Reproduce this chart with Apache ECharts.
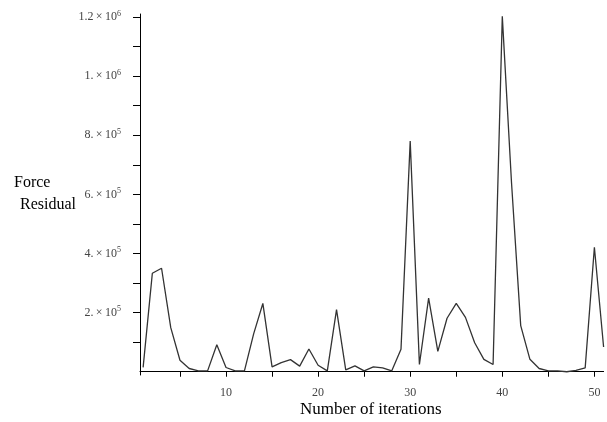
<!DOCTYPE html>
<html>
<head>
<meta charset="utf-8">
<script src="https://cdn.jsdelivr.net/npm/echarts@6/dist/echarts.min.js"></script>
<style>
  html, body { margin: 0; padding: 0; background: #fff; }
  #main { width: 607px; height: 422px; }
</style>
</head>
<body>
<div id="main"></div>
<script>
var iterations = [];
for (var i = 1; i <= 51; i++) iterations.push(i);

// force residual
var residual = [
  15000, 333000, 350000, 149000, 39000, 11000, 3000, 3000, 91600, 14400,
  3000, 3000, 128000, 231000, 16500, 31000, 41000, 19000, 77000, 22000,
  3000, 210000, 6500, 20000, 3000, 16500, 13000, 3000, 76000, 780000,
  24500, 249000, 69000, 181000, 231000, 184000, 98000, 42000, 24500, 1202000,
  640000, 156000, 42000, 11000, 3000, 3000, 0, 5000, 13000, 421000,
  83500
];

var xTicks = [5, 10, 15, 20, 25, 30, 35, 40, 45, 50];
var xLabels = [10, 20, 30, 40, 50];
var yTicks = [100000, 200000, 300000, 400000, 500000, 600000, 700000, 800000, 900000, 1000000, 1100000, 1200000];
var yLabels = [200000, 400000, 600000, 800000, 1000000, 1200000];

var chart = echarts.init(document.getElementById('main'));

function sciLabel(v) {
  var exp = v >= 1000000 ? 6 : 5;
  var m = v / Math.pow(10, exp);
  var ms = (Math.round(m * 10) / 10).toString();
  if (ms.indexOf('.') < 0) ms = ms + '.';
  return '{b|' + ms + '\u2009\u00d7\u200910}{s|' + exp + '}';
}

var option = {
  animation: false,
  grid: { left: 140, right: 3.4, top: 14, bottom: 47 },
  xAxis: {
    type: 'value',
    min: 0.66,
    max: 51,
    axisLine: { lineStyle: { color: '#000', width: 1 } },
    axisTick: { customValues: xTicks, length: 5, lineStyle: { color: '#000' } },
    axisLabel: {
      customValues: xLabels,
      color: '#444',
      fontFamily: 'Liberation Serif',
      fontSize: 12,
      margin: 12
    },
    splitLine: { show: false }
  },
  yAxis: {
    type: 'value',
    min: -11000,
    max: 1210000,
    axisLine: { show: true, lineStyle: { color: '#000', width: 1 } },
    axisTick: { show: true, customValues: yTicks, length: 7, lineStyle: { color: '#000' } },
    axisLabel: {
      customValues: yLabels,
      margin: 19,
      formatter: sciLabel,
      rich: {
        b: { color: '#444', fontFamily: 'Liberation Serif', fontSize: 12 },
        s: { color: '#444', fontFamily: 'Liberation Serif', fontSize: 8, padding: [0, 0, 7, 0] }
      }
    },
    splitLine: { show: false }
  },
  graphic: [
    { type: 'text', left: 14, top: 175, style: { text: 'Force', font: '16px "Liberation Serif"', fill: '#000' } },
    { type: 'text', left: 20, top: 197, style: { text: 'Residual', font: '16px "Liberation Serif"', fill: '#000' } },
    { type: 'text', left: 300, top: 401, style: { text: 'Number of iterations', font: '17px "Liberation Serif"', fill: '#000' } }
  ],
  series: [{
    type: 'line',
    data: iterations.map(function (x, k) { return [x, residual[k]]; }),
    showSymbol: false,
    lineStyle: { color: '#333', width: 1.3 }
  }]
};

chart.setOption(option);
</script>
</body>
</html>
